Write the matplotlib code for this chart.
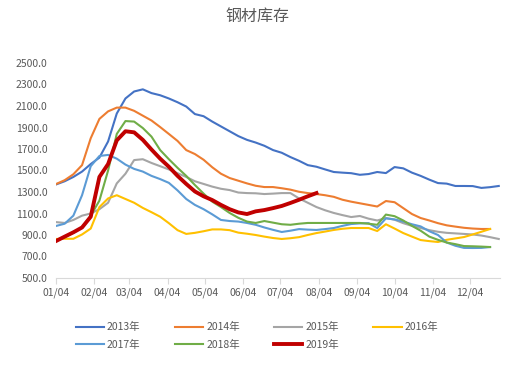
import pandas as pd
import matplotlib
matplotlib.use('Agg')
import matplotlib.pyplot as plt
import matplotlib.dates as mdates

plt.rcParams['font.family'] = ['Noto Sans CJK SC', 'DejaVu Sans']

title = '钢材库存'
labels = ['2013年', '2014年', '2015年', '2016年', '2017年', '2018年', '2019年']
colors = ['#4472C4', '#ED7D31', '#A5A5A5', '#FFC000', '#5B9BD5', '#70AD47', '#C00000']

# weekly stock, starting 01/04
s2013 = [1370, 1400, 1440, 1490, 1560, 1620, 1770, 2030, 2170, 2235, 2255, 2220, 2200,
         2170, 2135, 2095, 2025, 2005, 1955, 1910, 1865, 1820, 1785, 1760, 1730, 1690,
         1665, 1625, 1590, 1550, 1535, 1510, 1486, 1480, 1475, 1460, 1467, 1486, 1476,
         1532, 1520, 1480, 1450, 1415, 1383, 1378, 1356, 1356, 1355, 1338, 1345, 1356]
s2014 = [1374, 1410, 1465, 1550, 1800, 1980, 2050, 2085, 2085, 2055, 2010, 1965, 1904,
         1840, 1775, 1690, 1653, 1600, 1530, 1470, 1430, 1405, 1380, 1358, 1346, 1346,
         1335, 1322, 1302, 1290, 1281, 1270, 1255, 1228, 1210, 1195, 1180, 1165, 1216,
         1205, 1150, 1095, 1058, 1035, 1010, 990, 978, 967, 960, 956, 956]
s2015 = [1020, 1012, 1040, 1080, 1100, 1140, 1200, 1380, 1470, 1597, 1605, 1570, 1540,
         1510, 1475, 1440, 1400, 1375, 1350, 1330, 1318, 1295, 1290, 1288, 1281, 1285,
         1290, 1290, 1240, 1200, 1160, 1130, 1105, 1085, 1067, 1077, 1052, 1035, 1058,
         1042, 1010, 985, 965, 945, 930, 920, 915, 910, 905, 895, 880, 863]
s2016 = [863, 865, 865, 905, 960, 1160, 1240, 1270, 1235, 1200, 1152, 1112, 1070,
         1010, 945, 910, 920, 935, 952, 952, 945, 922, 912, 900, 885, 872,
         863, 870, 880, 900, 918, 932, 947, 958, 965, 965, 965, 937, 1000,
         960, 918, 885, 853, 843, 835, 855, 868, 881, 905, 930, 956]
s2017 = [984, 1005, 1080, 1270, 1540, 1635, 1645, 1610, 1555, 1515, 1490, 1450, 1420,
         1385, 1315, 1235, 1180, 1140, 1092, 1040, 1030, 1025, 1012, 995, 970, 948,
         928, 940, 955, 950, 947, 955, 965, 985, 1002, 1008, 1010, 965, 1055,
         1045, 1025, 1000, 980, 935, 900, 830, 800, 780, 779, 780, 788]
s2018 = [845, 880, 920, 970, 1080, 1220, 1500, 1840, 1960, 1955, 1895, 1815, 1690,
         1605, 1525, 1450, 1365, 1285, 1210, 1160, 1105, 1060, 1025, 1012, 1030, 1015,
         1000, 995, 1005, 1012, 1012, 1012, 1012, 1012, 1012, 1012, 1005, 995, 1090,
         1075, 1035, 985, 940, 885, 855, 830, 815, 797, 795, 792, 788]
s2019 = [844, 885, 925, 970, 1070, 1440, 1560, 1780, 1865, 1855, 1785, 1695, 1610,
         1535, 1450, 1375, 1305, 1260, 1225, 1180, 1140, 1110, 1095, 1120, 1132, 1150,
         1170, 1198, 1228, 1260, 1290]
series = [s2013, s2014, s2015, s2016, s2017, s2018, s2019]

weeks = pd.date_range('2019-01-04', periods=52, freq='7D')
month_ticks = pd.date_range('2019-01-04', periods=12, freq=pd.DateOffset(months=1))
y_ticks = list(range(500, 2501, 200))

fig = plt.figure(figsize=(5.14, 3.66), dpi=100)
ax = fig.add_axes([56 / 514, 1 - 278 / 366, 444 / 514, 215 / 366])

lines = []
for name, vals, c in zip(labels, series, colors):
    lw = 2.8 if name == '2019年' else 1.5
    ln, = ax.plot(weeks[:len(vals)], vals, color=c, lw=lw, label=name, solid_joinstyle='round')
    lines.append(ln)

ax.set_xlim(pd.Timestamp('2019-01-04'), pd.Timestamp('2019-12-28'))
ax.set_ylim(500, 2500)
ax.set_yticks(y_ticks)
ax.set_yticklabels(['%.1f' % v for v in y_ticks])
ax.set_xticks(month_ticks)
ax.xaxis.set_major_formatter(mdates.DateFormatter('%m/%d'))

for side in ['top', 'right', 'left']:
    ax.spines[side].set_visible(False)
ax.spines['bottom'].set_color('#d9d9d9')
ax.tick_params(axis='y', length=0, pad=6, labelsize=7.5, labelcolor='#595959')
ax.tick_params(axis='x', length=4, color='#d9d9d9', pad=3, labelsize=7.5, labelcolor='#595959')

fig.text(0.5, 1 - 16 / 366, title, ha='center', va='center', fontsize=11.5, color='#595959')

# legend fills column by column, so reorder to read row by row
order = [0, 4, 1, 5, 2, 6, 3]
fig.legend([lines[i] for i in order], [labels[i] for i in order],
           loc='upper center', bbox_to_anchor=(0.5, 1 - 313 / 366), ncol=4, frameon=False,
           fontsize=7.5, labelcolor='#595959', handlelength=2.7, handletextpad=0.3,
           columnspacing=3.3, labelspacing=0.7)

fig.savefig('out.png', dpi=100)
